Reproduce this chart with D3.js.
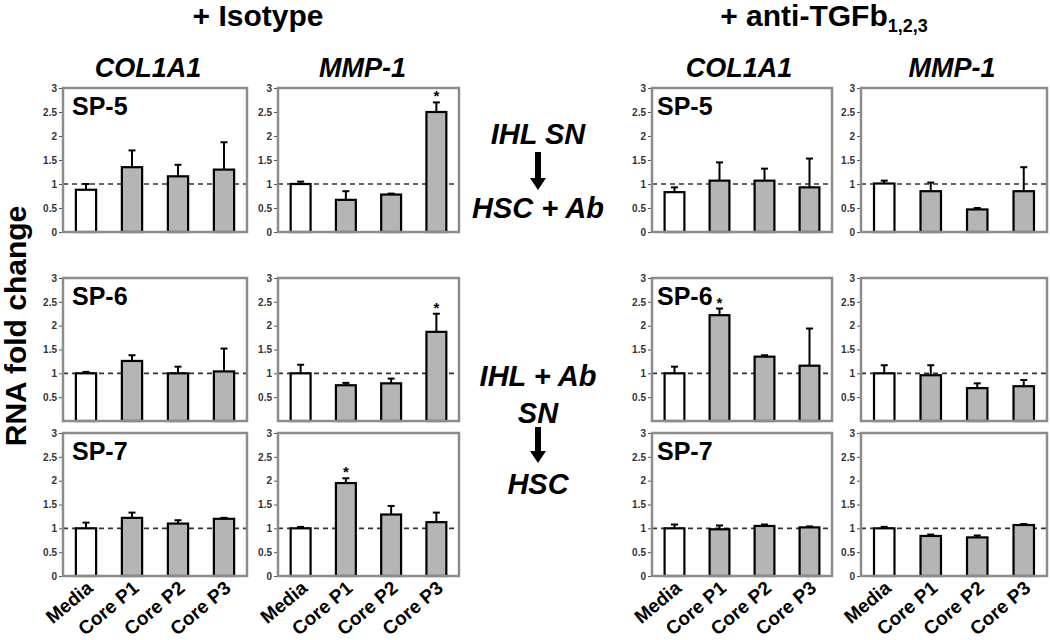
<!DOCTYPE html>
<html>
<head>
<meta charset="utf-8">
<script src="https://cdn.jsdelivr.net/npm/d3@7"></script>
<style>
  body { margin: 0; background: #fff; }
  svg { font-family: "Liberation Sans", Arial, sans-serif; }
</style>
</head>
<body>
<div id="chart"></div>
<script>
// categories and panel labels
var categories = ["Media", "Core P1", "Core P2", "Core P3"];
var genes = ["COL1A1", "MMP-1"];
var samples = ["SP-5", "SP-6", "SP-7"];
var yTicks = [0, 0.5, 1, 1.5, 2, 2.5, 3];

// mean fold change, one row per sample (SP-5, SP-6, SP-7)
var isoCol1a1 = [[0.88, 1.35, 1.16, 1.30], [1.00, 1.26, 1.00, 1.04], [1.00, 1.22, 1.10, 1.20]];
var isoMmp1   = [[1.00, 0.67, 0.78, 2.50], [1.00, 0.75, 0.79, 1.87], [1.00, 1.95, 1.29, 1.13]];
var antiCol1a1 = [[0.83, 1.07, 1.07, 0.93], [1.00, 2.22, 1.35, 1.16], [1.00, 0.98, 1.05, 1.02]];
var antiMmp1   = [[1.01, 0.85, 0.47, 0.85], [1.00, 0.96, 0.69, 0.73], [1.00, 0.84, 0.81, 1.07]];

// upper error (SEM)
var isoCol1a1Err = [[0.12, 0.35, 0.24, 0.57], [0.03, 0.12, 0.14, 0.48], [0.12, 0.11, 0.07, 0.02]];
var isoMmp1Err   = [[0.05, 0.18, 0.02, 0.20], [0.18, 0.05, 0.10, 0.38], [0.03, 0.10, 0.18, 0.20]];
var antiCol1a1Err = [[0.10, 0.38, 0.25, 0.60], [0.14, 0.14, 0.03, 0.78], [0.08, 0.08, 0.03, 0.02]];
var antiMmp1Err   = [[0.06, 0.18, 0.03, 0.50], [0.17, 0.21, 0.10, 0.13], [0.03, 0.03, 0.04, 0.02]];

// significance stars (1 = *)
var isoCol1a1Sig = [[0, 0, 0, 0], [0, 0, 0, 0], [0, 0, 0, 0]];
var isoMmp1Sig   = [[0, 0, 0, 1], [0, 0, 0, 1], [0, 1, 0, 0]];
var antiCol1a1Sig = [[0, 0, 0, 0], [0, 1, 0, 0], [0, 0, 0, 0]];
var antiMmp1Sig   = [[0, 0, 0, 0], [0, 0, 0, 0], [0, 0, 0, 0]];

var panelMeans = [isoCol1a1, isoMmp1, antiCol1a1, antiMmp1];
var panelErrs = [isoCol1a1Err, isoMmp1Err, antiCol1a1Err, antiMmp1Err];
var panelSigs = [isoCol1a1Sig, isoMmp1Sig, antiCol1a1Sig, antiMmp1Sig];

// layout of the grid
var colX = [63, 278, 652, 861],
    colW = [184, 181, 180, 186],
    rowTop = [88, 278, 433],
    rowBottom = [232, 421, 576];

var svg = d3.select("#chart").append("svg").attr("width", 1050).attr("height", 640);

// titles
svg.append("text").attr("x", 258).attr("y", 26).attr("text-anchor", "middle")
  .style("font-size", "30px").style("font-weight", "bold").text("+ Isotype");

var t2 = svg.append("text").attr("x", 824).attr("y", 26).attr("text-anchor", "middle")
  .style("font-size", "30px").style("font-weight", "bold");
t2.append("tspan").text("+ anti-TGFb");
t2.append("tspan").attr("dy", 6).style("font-size", "18px").text("1,2,3");

// y label
svg.append("text")
  .attr("transform", "translate(26,326) rotate(-90)")
  .attr("text-anchor", "middle")
  .style("font-size", "30px").style("font-weight", "bold")
  .text("RNA fold change");

// column headers
var headerDx = [-7, -6, -3, -2];
colX.forEach(function(cx, c) {
  svg.append("text")
    .attr("x", cx + colW[c] / 2 + headerDx[c]).attr("y", 77)
    .attr("text-anchor", "middle")
    .style("font-size", "27px").style("font-weight", "bold").style("font-style", "italic")
    .text(genes[c % 2]);
});

// panels
for (var c = 0; c < 4; c++) {
  for (var r = 0; r < 3; r++) {
    drawPanel(c, r);
  }
}

function drawPanel(c, r) {
  var left = colX[c], w = colW[c], top = rowTop[r], bottom = rowBottom[r];
  var g = svg.append("g");

  var x = d3.scaleBand().domain(categories).range([left, left + w])
    .paddingInner(0.56).paddingOuter(0.28);
  var y = d3.scaleLinear().domain([0, 3]).range([bottom, top]);

  var rows = categories.map(function(cat, i) {
    return {cat: cat, v: panelMeans[c][r][i], e: panelErrs[c][r][i], s: panelSigs[c][r][i], i: i};
  });

  // axis
  var ax = g.append("g").attr("transform", "translate(" + left + ",0)")
    .call(d3.axisLeft(y).tickValues(r == 1 ? yTicks.slice(1) : yTicks)
      .tickSize(4).tickPadding(2).tickFormat(d3.format("")));
  ax.select(".domain").remove();
  ax.selectAll("line").attr("stroke", "#555");
  ax.selectAll("text").style("font-size", "10px").style("font-weight", "bold")
    .style("font-family", "'Liberation Sans', Arial, sans-serif").attr("fill", "#333");

  // reference line at 1
  g.append("line")
    .attr("x1", left).attr("x2", left + w)
    .attr("y1", y(1)).attr("y2", y(1))
    .attr("stroke", "#333").attr("stroke-width", 1.6).attr("stroke-dasharray", "5,4");

  // error bars
  var eb = g.selectAll(".eb").data(rows).enter().append("g");
  eb.append("line")
    .attr("x1", function(d) { return x(d.cat) + x.bandwidth() / 2; })
    .attr("x2", function(d) { return x(d.cat) + x.bandwidth() / 2; })
    .attr("y1", function(d) { return y(d.v); })
    .attr("y2", function(d) { return y(d.v + d.e); })
    .attr("stroke", "#000").attr("stroke-width", 2);
  eb.append("line")
    .attr("x1", function(d) { return x(d.cat) + x.bandwidth() / 2 - 3.5; })
    .attr("x2", function(d) { return x(d.cat) + x.bandwidth() / 2 + 3.5; })
    .attr("y1", function(d) { return y(d.v + d.e); })
    .attr("y2", function(d) { return y(d.v + d.e); })
    .attr("stroke", "#000").attr("stroke-width", 2);

  // bars
  g.selectAll("rect.bar").data(rows).enter().append("rect")
    .attr("class", "bar")
    .attr("x", function(d) { return x(d.cat); })
    .attr("y", function(d) { return y(d.v); })
    .attr("width", x.bandwidth())
    .attr("height", function(d) { return y(0) - y(d.v); })
    .attr("fill", function(d) { return d.i == 0 ? "#fff" : "#b5b5b5"; })
    .attr("stroke", "#000").attr("stroke-width", 2.2);

  // stars
  g.selectAll("text.star").data(rows.filter(function(d) { return d.s; })).enter().append("text")
    .attr("class", "star")
    .attr("x", function(d) { return x(d.cat) + x.bandwidth() / 2; })
    .attr("y", function(d) { return y(d.v + d.e) - 1; })
    .attr("text-anchor", "middle")
    .style("font-size", "15px").style("font-weight", "bold")
    .text("*");

  // frame
  g.append("rect")
    .attr("x", left).attr("y", top).attr("width", w).attr("height", bottom - top)
    .attr("fill", "none").attr("stroke", "#8c8c8c").attr("stroke-width", 2.5);

  // sample label
  if (c % 2 == 0) {
    g.append("text")
      .attr("x", left + (c == 0 ? 9 : 5)).attr("y", top + 27)
      .style("font-size", "25px").style("font-weight", "bold")
      .text(samples[r]);
  }

  // category labels on bottom row
  if (r == 2) {
    g.selectAll("text.cat").data(categories).enter().append("text")
      .attr("class", "cat")
      .attr("transform", function(d) {
        return "translate(" + (x(d) + x.bandwidth() / 2 + 8) + "," + (bottom + 14) + ") rotate(-40)";
      })
      .attr("text-anchor", "end")
      .style("font-size", "19px").style("font-weight", "bold")
      .text(function(d) { return d; });
  }
}

// middle annotations with arrows
function midText(txt, yy) {
  svg.append("text").attr("x", 538).attr("y", yy).attr("text-anchor", "middle")
    .style("font-size", "29px").style("font-weight", "bold").style("font-style", "italic")
    .text(txt);
}
function arrow(x0, y0, y1) {
  svg.append("path")
    .attr("d", "M" + (x0 - 3) + "," + y0 + "V" + (y1 - 12) + "H" + (x0 - 8) +
      "L" + x0 + "," + y1 + "L" + (x0 + 8) + "," + (y1 - 12) + "H" + (x0 + 3) + "V" + y0 + "Z")
    .attr("fill", "#000");
}
midText("IHL SN", 144);
arrow(538, 152, 190);
midText("HSC + Ab", 218);
midText("IHL + Ab", 386);
midText("SN", 423);
arrow(538, 427, 463);
midText("HSC", 494);
</script>
</body>
</html>
